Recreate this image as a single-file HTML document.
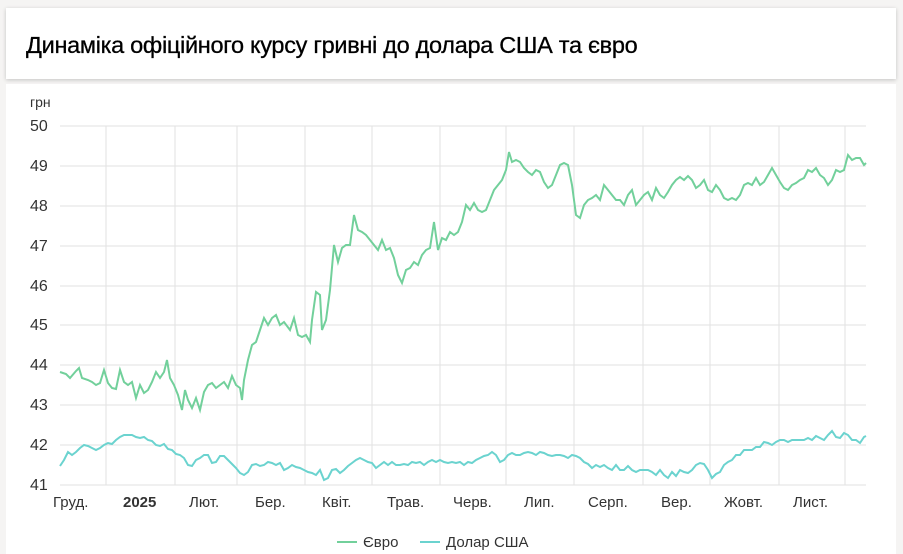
<!DOCTYPE html>
<html><head><meta charset="utf-8"><style>
body{margin:0;width:903px;height:554px;background:#f5f4f3;font-family:"Liberation Sans",sans-serif;overflow:hidden;position:relative}
.h{position:absolute;left:6px;top:8px;width:890px;height:71px;background:#fff;box-shadow:0 1px 4px rgba(0,0,0,.2)}
.h div{position:absolute;left:20px;top:24px;font-size:23.5px;color:#000;letter-spacing:-0.3px;-webkit-text-stroke:0.3px #000}
.c{position:absolute;left:6px;top:84px;width:890px;height:470px;background:#fff}
svg{position:absolute;left:0;top:0}
</style></head><body>
<div class="h"><div>Динаміка офіційного курсу гривні до долара США та євро</div></div>
<div class="c"></div>
<svg width="903" height="554" font-family="Liberation Sans, sans-serif" font-size="15" fill="#333">
<g stroke="#e2e2e2" stroke-width="1">
<line x1="60" x2="866" y1="126" y2="126"/><line x1="60" x2="866" y1="166" y2="166"/><line x1="60" x2="866" y1="206" y2="206"/><line x1="60" x2="866" y1="246" y2="246"/><line x1="60" x2="866" y1="286" y2="286"/><line x1="60" x2="866" y1="325" y2="325"/><line x1="60" x2="866" y1="365" y2="365"/><line x1="60" x2="866" y1="405" y2="405"/><line x1="60" x2="866" y1="445" y2="445"/><line x1="60" x2="866" y1="485" y2="485"/>
<line x1="106" x2="106" y1="126" y2="485"/><line x1="175" x2="175" y1="126" y2="485"/><line x1="237" x2="237" y1="126" y2="485"/><line x1="305" x2="305" y1="126" y2="485"/><line x1="372" x2="372" y1="126" y2="485"/><line x1="440" x2="440" y1="126" y2="485"/><line x1="506" x2="506" y1="126" y2="485"/><line x1="574" x2="574" y1="126" y2="485"/><line x1="643" x2="643" y1="126" y2="485"/><line x1="710" x2="710" y1="126" y2="485"/><line x1="779" x2="779" y1="126" y2="485"/><line x1="845" x2="845" y1="126" y2="485"/>
</g>
<text x="30" y="107" font-size="14">грн</text>
<g text-anchor="start" font-size="16"><text x="30" y="131">50</text><text x="30" y="171">49</text><text x="30" y="211">48</text><text x="30" y="251">47</text><text x="30" y="291">46</text><text x="30" y="330">45</text><text x="30" y="370">44</text><text x="30" y="410">43</text><text x="30" y="450">42</text><text x="30" y="490">41</text></g>
<g font-size="15"><text x="53" y="507">Груд.</text><text x="123" y="507" font-weight="bold">2025</text><text x="189" y="507">Лют.</text><text x="255" y="507">Бер.</text><text x="322" y="507">Квіт.</text><text x="387" y="507">Трав.</text><text x="453" y="507">Черв.</text><text x="524" y="507">Лип.</text><text x="588" y="507">Серп.</text><text x="661" y="507">Вер.</text><text x="724" y="507">Жовт.</text><text x="793" y="507">Лист.</text></g>
<polyline fill="none" stroke="#72d09b" stroke-width="2" points="60,372 66,374 70,378 76,371 79,368 82,378 88,380 92,382 96,385 100,383 104,370 108,383 112,388 116,389 120,370 124,382 128,385 132,382 136,398 140,385 144,393 148,390 152,382 156,372 160,378 164,372 167,360 170,378 174,385 178,395 182,410 185,390 188,400 192,408 196,398 200,410 204,392 208,385 212,383 216,388 220,385 224,382 228,388 232,376 236,385 240,388 242,400 244,380 248,360 252,345 256,342 260,330 264,318 268,325 272,318 276,315 280,325 284,322 290,330 294,318 298,335 302,337 306,335 310,342 312,320 316,292 320,295 322,330 326,320 330,290 334,245 338,262 342,248 346,245 350,245 354,215 358,230 362,232 366,235 370,240 374,245 378,250 382,240 386,250 390,248 394,258 398,275 402,283 406,270 410,268 414,262 418,265 422,255 426,250 430,248 434,222 438,250 442,238 446,240 450,232 454,235 458,232 462,222 466,205 470,210 474,203 478,210 482,212 486,210 490,200 494,190 498,185 502,180 506,170 509,152 512,162 516,160 520,162 524,168 528,172 532,175 536,170 540,172 544,182 548,188 552,185 556,175 560,165 564,163 568,165 572,185 576,215 580,218 584,205 588,200 592,198 596,195 600,200 604,185 608,190 612,195 616,200 620,200 624,205 628,195 632,190 636,205 640,200 644,195 648,192 652,200 656,188 660,195 664,198 668,192 672,185 676,180 680,177 684,180 688,176 692,180 696,188 700,185 704,180 708,190 712,192 716,185 720,190 724,198 728,200 732,198 736,200 740,195 744,185 748,183 752,185 756,178 760,185 764,182 768,175 772,168 776,175 780,182 784,188 788,190 792,185 796,183 800,180 804,178 808,170 812,172 816,168 820,175 824,178 828,185 832,180 836,170 840,172 844,170 848,155 852,160 856,158 860,158 864,165 866,163"/>
<polyline fill="none" stroke="#6bd3cf" stroke-width="2" points="60,466 64,460 68,452 72,455 76,452 80,448 84,445 88,446 92,448 96,450 100,448 104,445 108,443 112,444 116,440 120,437 124,435 128,435 132,435 136,437 140,438 144,437 148,440 152,441 156,445 160,446 164,444 168,449 172,450 176,454 180,455 184,458 188,465 192,466 196,460 200,458 204,455 208,455 212,463 216,462 220,456 224,456 228,460 232,464 236,468 240,473 244,475 248,472 252,465 256,464 260,466 264,465 268,462 272,463 276,465 280,463 284,470 288,468 292,465 296,467 300,468 304,470 308,472 312,473 316,475 320,470 324,480 328,478 332,470 336,469 340,473 344,470 348,466 352,463 356,460 360,458 364,460 368,462 372,463 376,468 380,465 384,462 388,465 392,462 396,465 400,465 404,464 408,465 412,462 416,463 420,462 424,465 428,462 432,460 436,462 440,460 444,462 448,463 452,462 456,463 460,462 464,465 468,462 472,463 476,460 480,458 484,456 488,455 492,452 496,455 500,462 504,460 508,455 512,453 516,455 520,455 524,453 528,452 532,453 536,455 540,452 544,453 548,455 552,456 556,455 560,455 564,456 568,458 572,455 576,456 580,458 584,462 588,464 592,468 596,465 600,467 604,465 608,468 612,470 616,465 620,470 624,470 628,466 632,470 636,472 640,470 644,470 648,470 652,472 656,475 660,470 664,475 668,478 672,472 676,476 680,470 684,472 688,473 692,470 696,465 700,463 704,464 708,470 712,478 716,474 720,472 724,465 728,462 732,460 736,455 740,455 744,450 748,450 752,450 756,447 760,447 764,442 768,443 772,445 776,442 780,440 784,440 788,442 792,440 796,440 800,440 804,440 808,438 812,440 816,436 820,438 824,440 828,435 832,431 836,437 840,438 844,433 848,435 852,440 856,440 860,443 864,437 866,436"/>
<line x1="337" x2="357" y1="542" y2="542" stroke="#72d09b" stroke-width="2"/>
<text x="363" y="547" font-size="15">Євро</text>
<line x1="420" x2="440" y1="542" y2="542" stroke="#6bd3cf" stroke-width="2"/>
<text x="446" y="547" font-size="15">Долар США</text>
</svg>
</body></html>
